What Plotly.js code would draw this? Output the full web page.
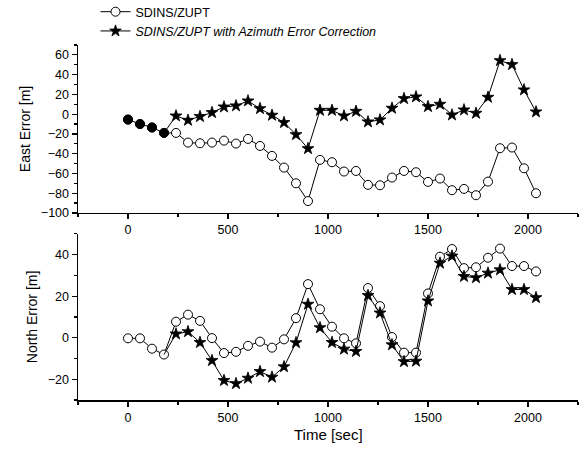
<!DOCTYPE html>
<html>
<head>
<meta charset="utf-8">
<script src="https://cdn.plot.ly/plotly-3.0.1.min.js"></script>
<style>html,body{margin:0;padding:0;background:#fff;}#chart{width:585px;height:451px;}</style>
</head>
<body>
<div id="chart"></div>
<script>
// Time [sec]
const time = [0,60,120,180,240,300,360,420,480,540,600,660,720,780,840,900,960,1020,1080,1140,1200,1260,1320,1380,1440,1500,1560,1620,1680,1740,1800,1860,1920,1980,2040];
// East error [m]
const eastZupt = [-5.5,-10,-13.5,-19,-19,-28.8,-29.5,-28.8,-26.8,-29.8,-25.1,-32.2,-42.3,-54.1,-70,-88,-46.3,-48.7,-58.1,-57.5,-71.6,-72,-64.2,-57.5,-58.8,-68.6,-65.2,-77,-75.7,-82.1,-68.3,-34.5,-33.8,-54.8,-80.1];
// corrected series starts where it leaves the shared segment (t = 180)
const corrTime = time.slice(3);
const eastCorr = [-19,-1.8,-6.2,-2.4,1.6,7.3,8.4,13.4,5.6,-1.1,-8.5,-20.7,-34.9,3.9,3.9,-1.8,2.9,-7.8,-5.8,6,15.8,17.5,7.7,10,-0.8,4.3,0.9,17.1,54.2,50.2,24.6,2.3];
// North error [m]
const northZupt = [-0.3,-0.3,-5.3,-8.1,7.7,11.1,8.1,-0.2,-7.4,-6.8,-3.9,-1.9,-4.8,-0.8,9.4,25.8,13.7,5.3,-0.3,-2.7,23.9,15.2,0.3,-7.2,-7.2,21.3,39,42.7,33.5,33.9,38.5,42.9,34.5,34.5,31.9];
const northCorr = [-8.1,1.8,2.9,-2.3,-11,-20.6,-22.1,-19.5,-16.3,-19,-14,-2.4,16.1,4.8,-2.3,-5.5,-6.6,20.3,11.9,-3.4,-11.5,-11.3,17.7,35.9,39.3,29.5,28.9,31.1,32.7,23.2,23.2,19.3];
// shared initial segment (both methods identical)
const sharedTime = time.slice(0,4);
const sharedEast = eastZupt.slice(0,4);

const nameA = 'SDINS/ZUPT';
const nameB = '<i>SDINS/ZUPT with Azimuth Error Correction</i>';
const xTitle = 'Time [sec]';

const circ = {symbol:'circle', size:9, color:'#ffffff', line:{color:'#000', width:1}};
const starSizes = corrTime.map((t,i)=> i===0 ? 0 : 9);
const star = {symbol:'star', size:starSizes, color:'#000', opacity:1, line:{color:'#000', width:0.8}};
const ln = {color:'#000', width:1};

const traces = [
  {x:time, y:eastZupt, xaxis:'x', yaxis:'y', mode:'lines+markers', name:nameA, line:ln, marker:circ, legendgroup:'a'},
  {x:corrTime, y:eastCorr, xaxis:'x', yaxis:'y', mode:'lines+markers', name:nameB, line:ln, marker:star, legendgroup:'b'},
  {x:sharedTime, y:sharedEast, xaxis:'x', yaxis:'y', mode:'markers', showlegend:false,
   marker:{symbol:'circle', size:9, color:'#000', line:{color:'#000', width:1}}},
  {x:time, y:northZupt, xaxis:'x2', yaxis:'y2', mode:'lines+markers', name:nameA, line:ln, marker:circ, showlegend:false},
  {x:corrTime, y:northCorr, xaxis:'x2', yaxis:'y2', mode:'lines+markers', name:nameB, line:ln, marker:star, showlegend:false}
];

const FONT = 'Arial, "Liberation Sans", sans-serif';
const xBase = {
  range:[-250,2250], showline:true, linecolor:'#000', linewidth:1.5, ticks:'outside', ticklen:5, tickwidth:1.2,
  tickcolor:'#000', dtick:500, tick0:0, showgrid:false, zeroline:false, tickfont:{size:12.5, color:'#000'},
  minor:{ticks:'outside', ticklen:3, dtick:250, tick0:0, tickcolor:'#000', showgrid:false}
};
const yBase = {
  showline:true, linecolor:'#000', linewidth:1.5, ticks:'outside', ticklen:5, tickwidth:1.2, tickcolor:'#000',
  dtick:20, tick0:0, showgrid:false, zeroline:false, tickfont:{size:12.5, color:'#000'},
  minor:{ticks:'outside', ticklen:3, dtick:10, tick0:0, tickcolor:'#000', showgrid:false}
};

const layout = {
  width:585, height:451,
  margin:{l:78, r:7, t:45, b:51, autoexpand:false},
  paper_bgcolor:'#fff', plot_bgcolor:'#fff',
  font:{family:FONT, color:'#000'},
  showlegend:true,
  legend:{x:0.035, y:1.135, xanchor:'left', yanchor:'top', font:{size:12.5, color:'#000'}, bgcolor:'rgba(0,0,0,0)', tracegroupgap:0, itemwidth:30},
  xaxis:Object.assign({}, xBase, {anchor:'y', domain:[0,1]}),
  xaxis2:Object.assign({}, xBase, {anchor:'y2', domain:[0,1]}),
  yaxis:Object.assign({}, yBase, {anchor:'x', domain:[0.527,1], range:[-100,70], title:{text:'East Error [m]', font:{size:14}, standoff:7}}),
  yaxis2:Object.assign({}, yBase, {anchor:'x2', domain:[0,0.468], range:[-30,50], title:{text:'North Error [m]', font:{size:14}, standoff:7}}),
  annotations:[{text:xTitle, xref:'paper', yref:'paper', x:0.5, y:-0.097, xanchor:'center', yanchor:'middle',
    showarrow:false, font:{size:15, color:'#000'}}]
};

Plotly.newPlot('chart', traces, layout, {displayModeBar:false, staticPlot:true});
</script>
</body>
</html>
